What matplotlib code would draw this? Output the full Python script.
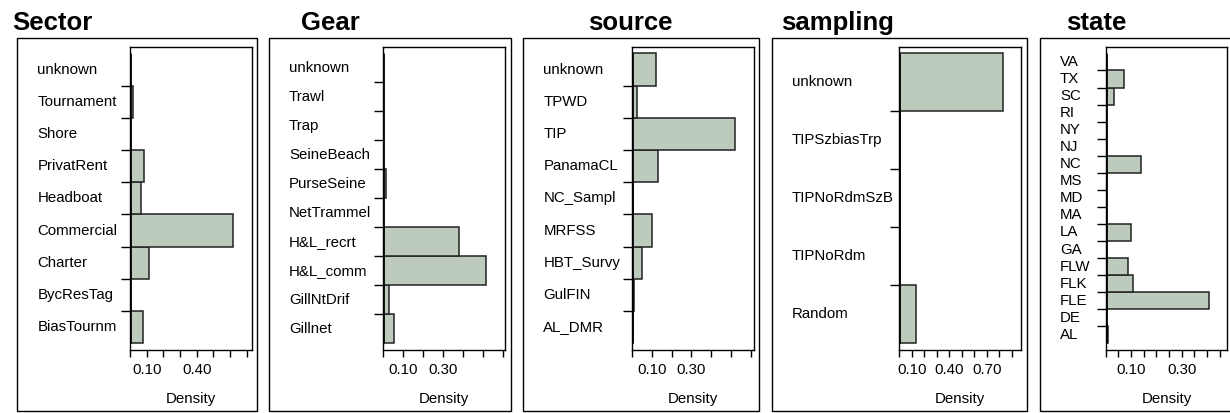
import matplotlib
matplotlib.use("Agg")
import matplotlib.pyplot as plt
import matplotlib.patches as patches
import matplotlib.transforms as mtransforms
import numpy as np

plt.rcParams['font.family'] = ['Liberation Sans', 'DejaVu Sans']

# Data (categories listed bottom -> top, as drawn)
sector_cats = ["BiasTournm", "BycResTag", "Charter", "Commercial", "Headboat",
               "PrivatRent", "Shore", "Tournament", "unknown"]
sector_vals = [0.076, 0.0, 0.116, 0.62, 0.068, 0.084, 0.0, 0.016, 0.002]

gear_cats = ["Gillnet", "GillNtDrif", "H&L_comm", "H&L_recrt", "NetTrammel",
             "PurseSeine", "SeineBeach", "Trap", "Trawl", "unknown"]
gear_vals = [0.055, 0.027, 0.517, 0.377, 0.001, 0.013, 0.001, 0.001, 0.001, 0.0]

source_cats = ["AL_DMR", "GulFIN", "HBT_Survy", "MRFSS", "NC_Sampl",
               "PanamaCL", "TIP", "TPWD", "unknown"]
source_vals = [0.007, 0.012, 0.049, 0.10, 0.007, 0.131, 0.52, 0.027, 0.12]

sampling_cats = ["Random", "TIPNoRdm", "TIPNoRdmSzB", "TIPSzbiasTrp", "unknown"]
sampling_vals = [0.135, 0.002, 0.002, 0.002, 0.83]

state_cats = ["AL", "DE", "FLE", "FLK", "FLW", "GA", "LA", "MA", "MD", "MS",
              "NC", "NJ", "NY", "RI", "SC", "TX", "VA"]
state_vals = [0.009, 0.0, 0.408, 0.109, 0.087, 0.0, 0.099, 0.0, 0.0, 0.0,
              0.138, 0.0, 0.0, 0.0, 0.033, 0.071, 0.0]

titles = ["Sector", "Gear", "source", "sampling", "state"]
all_cats = [sector_cats, gear_cats, source_cats, sampling_cats, state_cats]
all_vals = [sector_vals, gear_vals, source_vals, sampling_vals, state_vals]

# x axis: upper limit, tick step, labelled ticks
xmaxes = [0.73, 0.61, 0.616, 0.97, 0.48]
tick_steps = [0.1, 0.1, 0.1, 0.1, 0.05]
tick_labels = [[0.10, 0.40], [0.10, 0.30], [0.10, 0.30], [0.10, 0.40, 0.70], [0.10, 0.30]]

# layout in pixels
W, H = 1230, 413
inner_x = [(130, 251.7), (383.3, 505), (632, 754), (899.3, 1020.7), (1105.7, 1227.3)]
outer_x = [(17.3, 256.7), (269, 510.7), (523.3, 759.3), (771.7, 1026.7), (1040, 1233)]
title_x = [12, 330, 630, 837, 1096]
title_ha = ["left", "center", "center", "center", "center"]
inner_top, inner_bot = 46.7, 350
outer_top, outer_bot = 38.3, 411

bar_color = "#bccbbc"

fig = plt.figure(figsize=(W / 100, H / 100), dpi=100)

for i in range(5):
    x0, x1 = inner_x[i]
    ax = fig.add_axes([x0 / W, 1 - inner_bot / H, (x1 - x0) / W, (inner_bot - inner_top) / H])
    cats = all_cats[i]
    vals = all_vals[i]
    n = len(cats)
    y = np.arange(n) + 0.5
    ax.barh(y, vals, height=1.0, color=bar_color, edgecolor="#222222", linewidth=1.1)
    ax.vlines(0, 0, n, color="black", linewidth=2.0)
    ax.set_xlim(0, xmaxes[i])
    m = n * 6.7 / 290
    ax.set_ylim(-m, n + m)

    step = tick_steps[i]
    ticks = np.arange(0, xmaxes[i] - 1e-9, step)
    labs = []
    for t in ticks:
        lab = ""
        for v in tick_labels[i]:
            if abs(t - v) < 1e-6:
                lab = "%.2f" % v
        labs.append(lab)
    ax.set_xticks(ticks)
    ax.set_xticklabels(labs)
    ax.set_yticks(np.arange(1, n))
    ax.set_yticklabels([])
    ax.tick_params(axis="x", direction="out", length=5, width=1, pad=4, labelsize=10.8)
    ax.tick_params(axis="y", direction="out", length=6.7, width=1)
    ax.set_xlabel("Density", fontsize=10.8, labelpad=11)
    for s in ax.spines.values():
        s.set_linewidth(1.0)

    trans = mtransforms.blended_transform_factory(fig.transFigure, ax.transData)
    for j in range(n):
        ax.text((outer_x[i][0] + 20) / W, y[j], cats[j], transform=trans,
                ha="left", va="center", fontsize=10.8, clip_on=False)

    ox0, ox1 = outer_x[i]
    rect = patches.Rectangle((ox0 / W, 1 - outer_bot / H), (ox1 - ox0) / W,
                             (outer_bot - outer_top) / H, transform=fig.transFigure,
                             fill=False, edgecolor="black", linewidth=1.0)
    fig.patches.append(rect)

    fig.text(title_x[i] / W, 1 - 30 / H, titles[i], ha=title_ha[i], va="baseline",
             fontsize=18.5, fontweight="bold")

fig.savefig("out.png", dpi=100)
